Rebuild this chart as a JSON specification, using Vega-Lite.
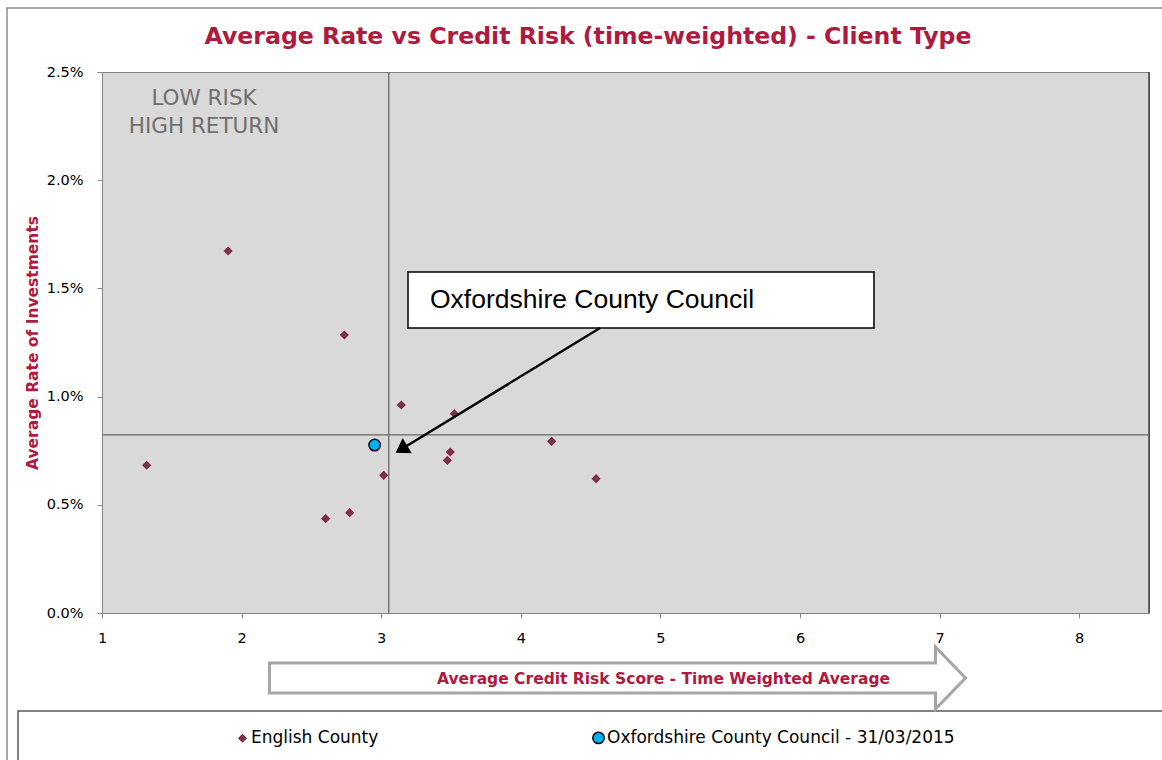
{
  "$schema": "https://vega.github.io/schema/vega-lite/v6.json",
  "width": 1047,
  "height": 541,
  "autosize": {"type": "none"},
  "padding": {"left": 102, "top": 72, "right": 13, "bottom": 147},
  "background": "white",
  "config": {
    "view": {"fill": "#d9d9d9", "stroke": "#7f7f7f", "strokeWidth": 1},
    "axis": {"grid": false, "domainColor": "#868686", "tickColor": "#868686", "labelFont": "DejaVu Sans", "labelFontSize": 14.5, "labelColor": "#000000", "tickSize": 5, "labelFlush": false}
  },
  "resolve": {"axis": {"x": "independent", "y": "independent"}},
  "data": {
    "values": [
      {"series": "English County", "score": 1.320, "rate": 0.006825},
      {"series": "English County", "score": 1.903, "rate": 0.01673},
      {"series": "English County", "score": 2.602, "rate": 0.00436},
      {"series": "English County", "score": 2.736, "rate": 0.012847},
      {"series": "English County", "score": 2.774, "rate": 0.004636},
      {"series": "English County", "score": 3.018, "rate": 0.00636},
      {"series": "English County", "score": 3.144, "rate": 0.00961},
      {"series": "English County", "score": 3.474, "rate": 0.007055},
      {"series": "English County", "score": 3.495, "rate": 0.00744},
      {"series": "English County", "score": 3.524, "rate": 0.00921},
      {"series": "English County", "score": 4.221, "rate": 0.007933},
      {"series": "English County", "score": 4.539, "rate": 0.006208},
      {"series": "Oxfordshire County Council - 31/03/2015", "score": 2.953, "rate": 0.00776}
    ]
  },
  "layer": [
    {
      "data": {"values": [{}]},
      "mark": {"type": "rect", "filled": false, "stroke": "#8c8c8c", "strokeWidth": 1.5},
      "encoding": {
        "x": {"datum": 0.3195, "type": "quantitative", "axis": null},
        "x2": {"datum": 8.65},
        "y": {"datum": 0.027957, "type": "quantitative", "axis": null},
        "y2": {"datum": -0.0073}
      }
    },
    {
      "data": {"values": [{}]},
      "mark": {"type": "rect", "filled": false, "stroke": "#595959", "strokeWidth": 1.5},
      "encoding": {
        "x": {"datum": 0.3983, "type": "quantitative", "axis": null},
        "x2": {"datum": 8.65},
        "y": {"datum": -0.004529, "type": "quantitative", "axis": null},
        "y2": {"datum": -0.0073}
      }
    },
    {
      "data": {"values": [{}]},
      "mark": {"type": "rule", "color": "#404040", "strokeWidth": 1.5},
      "encoding": {"x": {"datum": 8.5, "type": "quantitative", "axis": null}}
    },
    {
      "mark": {"type": "rule", "color": "#666666", "strokeWidth": 1.3},
      "encoding": {"x": {"aggregate": "mean", "field": "score", "type": "quantitative", "axis": null}}
    },
    {
      "mark": {"type": "rule", "color": "#666666", "strokeWidth": 1.3},
      "encoding": {"y": {"aggregate": "mean", "field": "rate", "type": "quantitative", "axis": null}}
    },
    {
      "mark": {"type": "point", "filled": true, "opacity": 1, "strokeWidth": 1.5},
      "encoding": {
        "x": {
          "field": "score", "type": "quantitative",
          "scale": {"domain": [1, 8.5], "nice": false, "zero": false},
          "axis": {
            "values": [1, 2, 3, 4, 5, 6, 7, 8], "format": "d", "labelPadding": 13,
            "title": "Average Credit Risk Score - Time Weighted Average",
            "titleFont": "DejaVu Sans", "titleFontWeight": "bold", "titleFontSize": 15.5, "titleColor": "#AF1A3F",
            "titleX": 561, "titleY": 65, "titleAlign": "center", "titleBaseline": "middle", "zindex": 1
          }
        },
        "y": {
          "field": "rate", "type": "quantitative",
          "scale": {"domain": [0, 0.025], "nice": false, "zero": false},
          "axis": {
            "values": [0, 0.005, 0.01, 0.015, 0.02, 0.025], "format": ".1%", "labelPadding": 14,
            "title": "Average Rate of Investments",
            "titleFont": "DejaVu Sans", "titleFontWeight": "bold", "titleFontSize": 15.5, "titleColor": "#AF1A3F",
            "titleX": -70, "titleY": 270.5, "titleAngle": -90, "titleAlign": "center", "titleBaseline": "middle"
          }
        },
        "shape": {
          "field": "series", "type": "nominal",
          "scale": {"domain": ["English County", "Oxfordshire County Council - 31/03/2015"], "range": ["diamond", "circle"]},
          "legend": {"orient": "none", "legendX": 132, "legendY": 657, "direction": "horizontal", "columnPadding": 210, "labelFont": "DejaVu Sans", "labelFontSize": 17, "labelColor": "#000000", "labelOffset": 0, "labelLimit": 500, "title": null, "padding": 0, "symbolStrokeWidth": 1.5}
        },
        "fill": {
          "field": "series", "type": "nominal",
          "scale": {"domain": ["English County", "Oxfordshire County Council - 31/03/2015"], "range": ["#4d4d4d", "#00b0f0"]},
          "legend": {"orient": "none", "legendX": 132, "legendY": 657, "direction": "horizontal", "columnPadding": 210, "labelFont": "DejaVu Sans", "labelFontSize": 17, "labelColor": "#000000", "labelOffset": 0, "labelLimit": 500, "title": null, "padding": 0, "symbolStrokeWidth": 1.5}
        },
        "stroke": {
          "field": "series", "type": "nominal",
          "scale": {"domain": ["English County", "Oxfordshire County Council - 31/03/2015"], "range": ["#9a1b40", "#000000"]},
          "legend": {"orient": "none", "legendX": 132, "legendY": 657, "direction": "horizontal", "columnPadding": 210, "labelFont": "DejaVu Sans", "labelFontSize": 17, "labelColor": "#000000", "labelOffset": 0, "labelLimit": 500, "title": null, "padding": 0, "symbolStrokeWidth": 1.5}
        },
        "size": {
          "field": "series", "type": "nominal",
          "scale": {"domain": ["English County", "Oxfordshire County Council - 31/03/2015"], "range": [49, 130]},
          "legend": {"orient": "none", "legendX": 132, "legendY": 657, "direction": "horizontal", "columnPadding": 210, "labelFont": "DejaVu Sans", "labelFontSize": 17, "labelColor": "#000000", "labelOffset": 0, "labelLimit": 500, "title": null, "padding": 0, "symbolStrokeWidth": 1.5}
        }
      }
    },
    {
      "data": {"values": [{}]},
      "mark": {"type": "rect", "fill": "#ffffff", "stroke": "#000000", "strokeWidth": 1.5},
      "encoding": {
        "x": {"datum": 3.192, "type": "quantitative", "axis": null},
        "x2": {"datum": 6.5301},
        "y": {"datum": 0.015758, "type": "quantitative", "axis": null},
        "y2": {"datum": 0.01317}
      }
    },
    {
      "data": {"values": [{}]},
      "mark": {"type": "text", "text": "Oxfordshire County Council", "align": "left", "baseline": "middle", "font": "Liberation Sans", "fontSize": 26.5, "color": "#000000"},
      "encoding": {
        "x": {"datum": 3.3496, "type": "quantitative", "axis": null},
        "y": {"datum": 0.014464, "type": "quantitative", "axis": null}
      }
    },
    {
      "data": {"values": [{}]},
      "mark": {"type": "rule", "color": "#000000", "strokeWidth": 2.5},
      "encoding": {
        "x": {"datum": 4.5673, "type": "quantitative", "axis": null},
        "y": {"datum": 0.01317, "type": "quantitative", "axis": null},
        "x2": {"datum": 3.1526},
        "y2": {"datum": 0.0076017}
      }
    },
    {
      "data": {"values": [{}]},
      "mark": {"type": "point", "shape": "M0,0 L16.1,0.6 L6.9,-14.6 Z", "size": 4, "filled": true, "fill": "#000000", "opacity": 1, "strokeWidth": 0},
      "encoding": {
        "x": {"datum": 3.1039, "type": "quantitative", "axis": null},
        "y": {"datum": 0.0074076, "type": "quantitative", "axis": null}
      }
    },
    {
      "data": {"values": [{}]},
      "mark": {"type": "text", "text": ["LOW RISK", "HIGH RETURN"], "align": "center", "baseline": "middle", "lineHeight": 28.3, "font": "DejaVu Sans", "fontSize": 21.5, "color": "#6f6f6f"},
      "encoding": {
        "x": {"datum": 1.7307, "type": "quantitative", "axis": null},
        "y": {"datum": 0.023755, "type": "quantitative", "axis": null}
      }
    },
    {
      "data": {"values": [{}]},
      "mark": {"type": "text", "text": "Average Rate vs Credit Risk (time-weighted) - Client Type", "align": "center", "baseline": "middle", "font": "DejaVu Sans", "fontWeight": "bold", "fontSize": 23.6, "color": "#AF1A3F"},
      "encoding": {
        "x": {"datum": 4.4814, "type": "quantitative", "axis": null},
        "y": {"datum": 0.026632, "type": "quantitative", "axis": null}
      }
    },
    {
      "data": {"values": [{}]},
      "mark": {"type": "point", "shape": "M-348,-15 L318,-15 L318,-31 L348,0 L318,31 L318,15 L-348,15 Z", "size": 4, "filled": true, "fill": "#ffffff", "stroke": "#a6a6a6", "strokeWidth": 3, "opacity": 1},
      "encoding": {
        "x": {"datum": 4.6927, "type": "quantitative", "axis": null},
        "y": {"datum": -0.0030037, "type": "quantitative", "axis": null}
      }
    }
  ]
}
